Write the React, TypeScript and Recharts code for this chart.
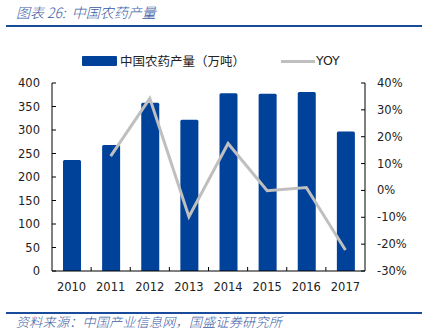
import React from 'react';
import {
  ComposedChart,
  Bar,
  Line,
  XAxis,
  YAxis,
} from 'recharts';

// Data
const years = ['2010', '2011', '2012', '2013', '2014', '2015', '2016', '2017'];
const output = [236, 268, 358, 322, 378, 377, 381, 297];
const yoy = [null, 12.8, 34.3, -9.8, 17.5, -0.1, 1.1, -22.2];
const leftTicks = [0, 50, 100, 150, 200, 250, 300, 350, 400];
const rightTicks = [-30, -20, -10, 0, 10, 20, 30, 40];

const chartData = years.map((year, i) => ({
  year,
  output: output[i],
  yoy: yoy[i],
}));

const BLUE = '#00419A';
const GREY = '#BFBFBF';
const TICK_FONT = '"DejaVu Sans", Verdana, sans-serif';
const CJK_FONT = '"Noto Sans CJK SC", sans-serif';
const MARGIN = 12;
const BAND = 313 / years.length;

const LeftTick = ({ x, y, payload }: any) => {
  const ax = x + MARGIN;
  return (
    <g>
      <line x1={ax} x2={ax + 4} y1={y} y2={y} stroke="#000" />
      <text x={x} y={y} dy={4} textAnchor="end" fontSize={11.5} fontFamily={TICK_FONT} fill="#222">
        {payload.value}
      </text>
    </g>
  );
};

const RightTick = ({ x, y, payload }: any) => {
  const ax = x - MARGIN;
  return (
    <g>
      <line x1={ax - 4} x2={ax} y1={y} y2={y} stroke="#000" />
      <text x={x} y={y} dy={4} textAnchor="start" fontSize={11.5} fontFamily={TICK_FONT} fill="#222">
        {`${payload.value}%`}
      </text>
    </g>
  );
};

const BottomTick = ({ x, y, payload, index }: any) => {
  const ay = y - MARGIN;
  return (
    <g>
      {index < years.length - 1 && (
        <line x1={x + BAND / 2} x2={x + BAND / 2} y1={ay} y2={ay - 4} stroke="#000" />
      )}
      <text x={x} y={ay + 20} textAnchor="middle" fontSize={11.5} fontFamily={TICK_FONT} fill="#222">
        {payload.value}
      </text>
    </g>
  );
};

const App: React.FC = () => {
  return (
    <div style={{ position: 'absolute', left: 0, top: 0, width: 425, height: 333, background: '#fff' }}>
      <div
        style={{
          position: 'absolute', left: 16, top: 3, fontSize: 14, fontStyle: 'italic',
          fontFamily: CJK_FONT, color: '#3A5CA6', whiteSpace: 'pre', lineHeight: '18px',
          fontWeight: 300,
        }}
      >
        图表 26:  中国农药产量
      </div>
      <div style={{ position: 'absolute', left: 6, top: 25, width: 416, height: 2, background: '#1A4B9B' }} />

      {/* legend */}
      <div style={{ position: 'absolute', left: 82, top: 56, width: 35, height: 10, background: BLUE, borderRadius: 1 }} />
      <div
        style={{
          position: 'absolute', left: 120, top: 52, fontSize: 12.5, fontFamily: CJK_FONT,
          color: '#222', whiteSpace: 'nowrap', lineHeight: '18px',
        }}
      >
        中国农药产量（万吨）
      </div>
      <div style={{ position: 'absolute', left: 281, top: 60, width: 34, height: 3, background: GREY }} />
      <div
        style={{
          position: 'absolute', left: 316, top: 53, fontSize: 12.5, fontFamily: TICK_FONT,
          color: '#222', whiteSpace: 'nowrap', lineHeight: '16px',
        }}
      >
        YOY
      </div>

      <div style={{ position: 'absolute', left: 0, top: 0 }}>
        <ComposedChart
          width={425}
          height={333}
          data={chartData}
          margin={{ top: 83, right: 0, left: 0, bottom: 32 }}
        >
          <XAxis
            dataKey="year"
            height={30}
            axisLine={{ stroke: '#000' }}
            tickLine={false}
            tickSize={0}
            tickMargin={MARGIN}
            tick={<BottomTick />}
            interval={0}
          />
          <YAxis
            yAxisId="left"
            orientation="left"
            width={52}
            domain={[0, 400]}
            ticks={leftTicks}
            axisLine={{ stroke: '#000' }}
            tickLine={false}
            tickSize={0}
            tickMargin={MARGIN}
            tick={<LeftTick />}
            interval={0}
          />
          <YAxis
            yAxisId="right"
            orientation="right"
            width={60}
            domain={[-30, 40]}
            ticks={rightTicks}
            axisLine={{ stroke: '#000' }}
            tickLine={false}
            tickSize={0}
            tickMargin={MARGIN}
            tick={<RightTick />}
            interval={0}
          />
          <Bar yAxisId="left" dataKey="output" fill={BLUE} barSize={18} radius={[1.5, 1.5, 0, 0]} isAnimationActive={false} />
          <Line
            yAxisId="right"
            dataKey="yoy"
            stroke={GREY}
            strokeWidth={3}
            dot={false}
            type="linear"
            isAnimationActive={false}
          />
        </ComposedChart>
      </div>

      <div style={{ position: 'absolute', left: 6, top: 312, width: 416, height: 2, background: '#1A4B9B' }} />
      <div
        style={{
          position: 'absolute', left: 16, top: 313, fontSize: 13, fontStyle: 'italic',
          fontFamily: CJK_FONT, color: '#3A5CA6', whiteSpace: 'nowrap', lineHeight: '18px',
          letterSpacing: 0.3, fontWeight: 300,
        }}
      >
        资料来源：中国产业信息网，国盛证券研究所
      </div>
    </div>
  );
};

export default App;
